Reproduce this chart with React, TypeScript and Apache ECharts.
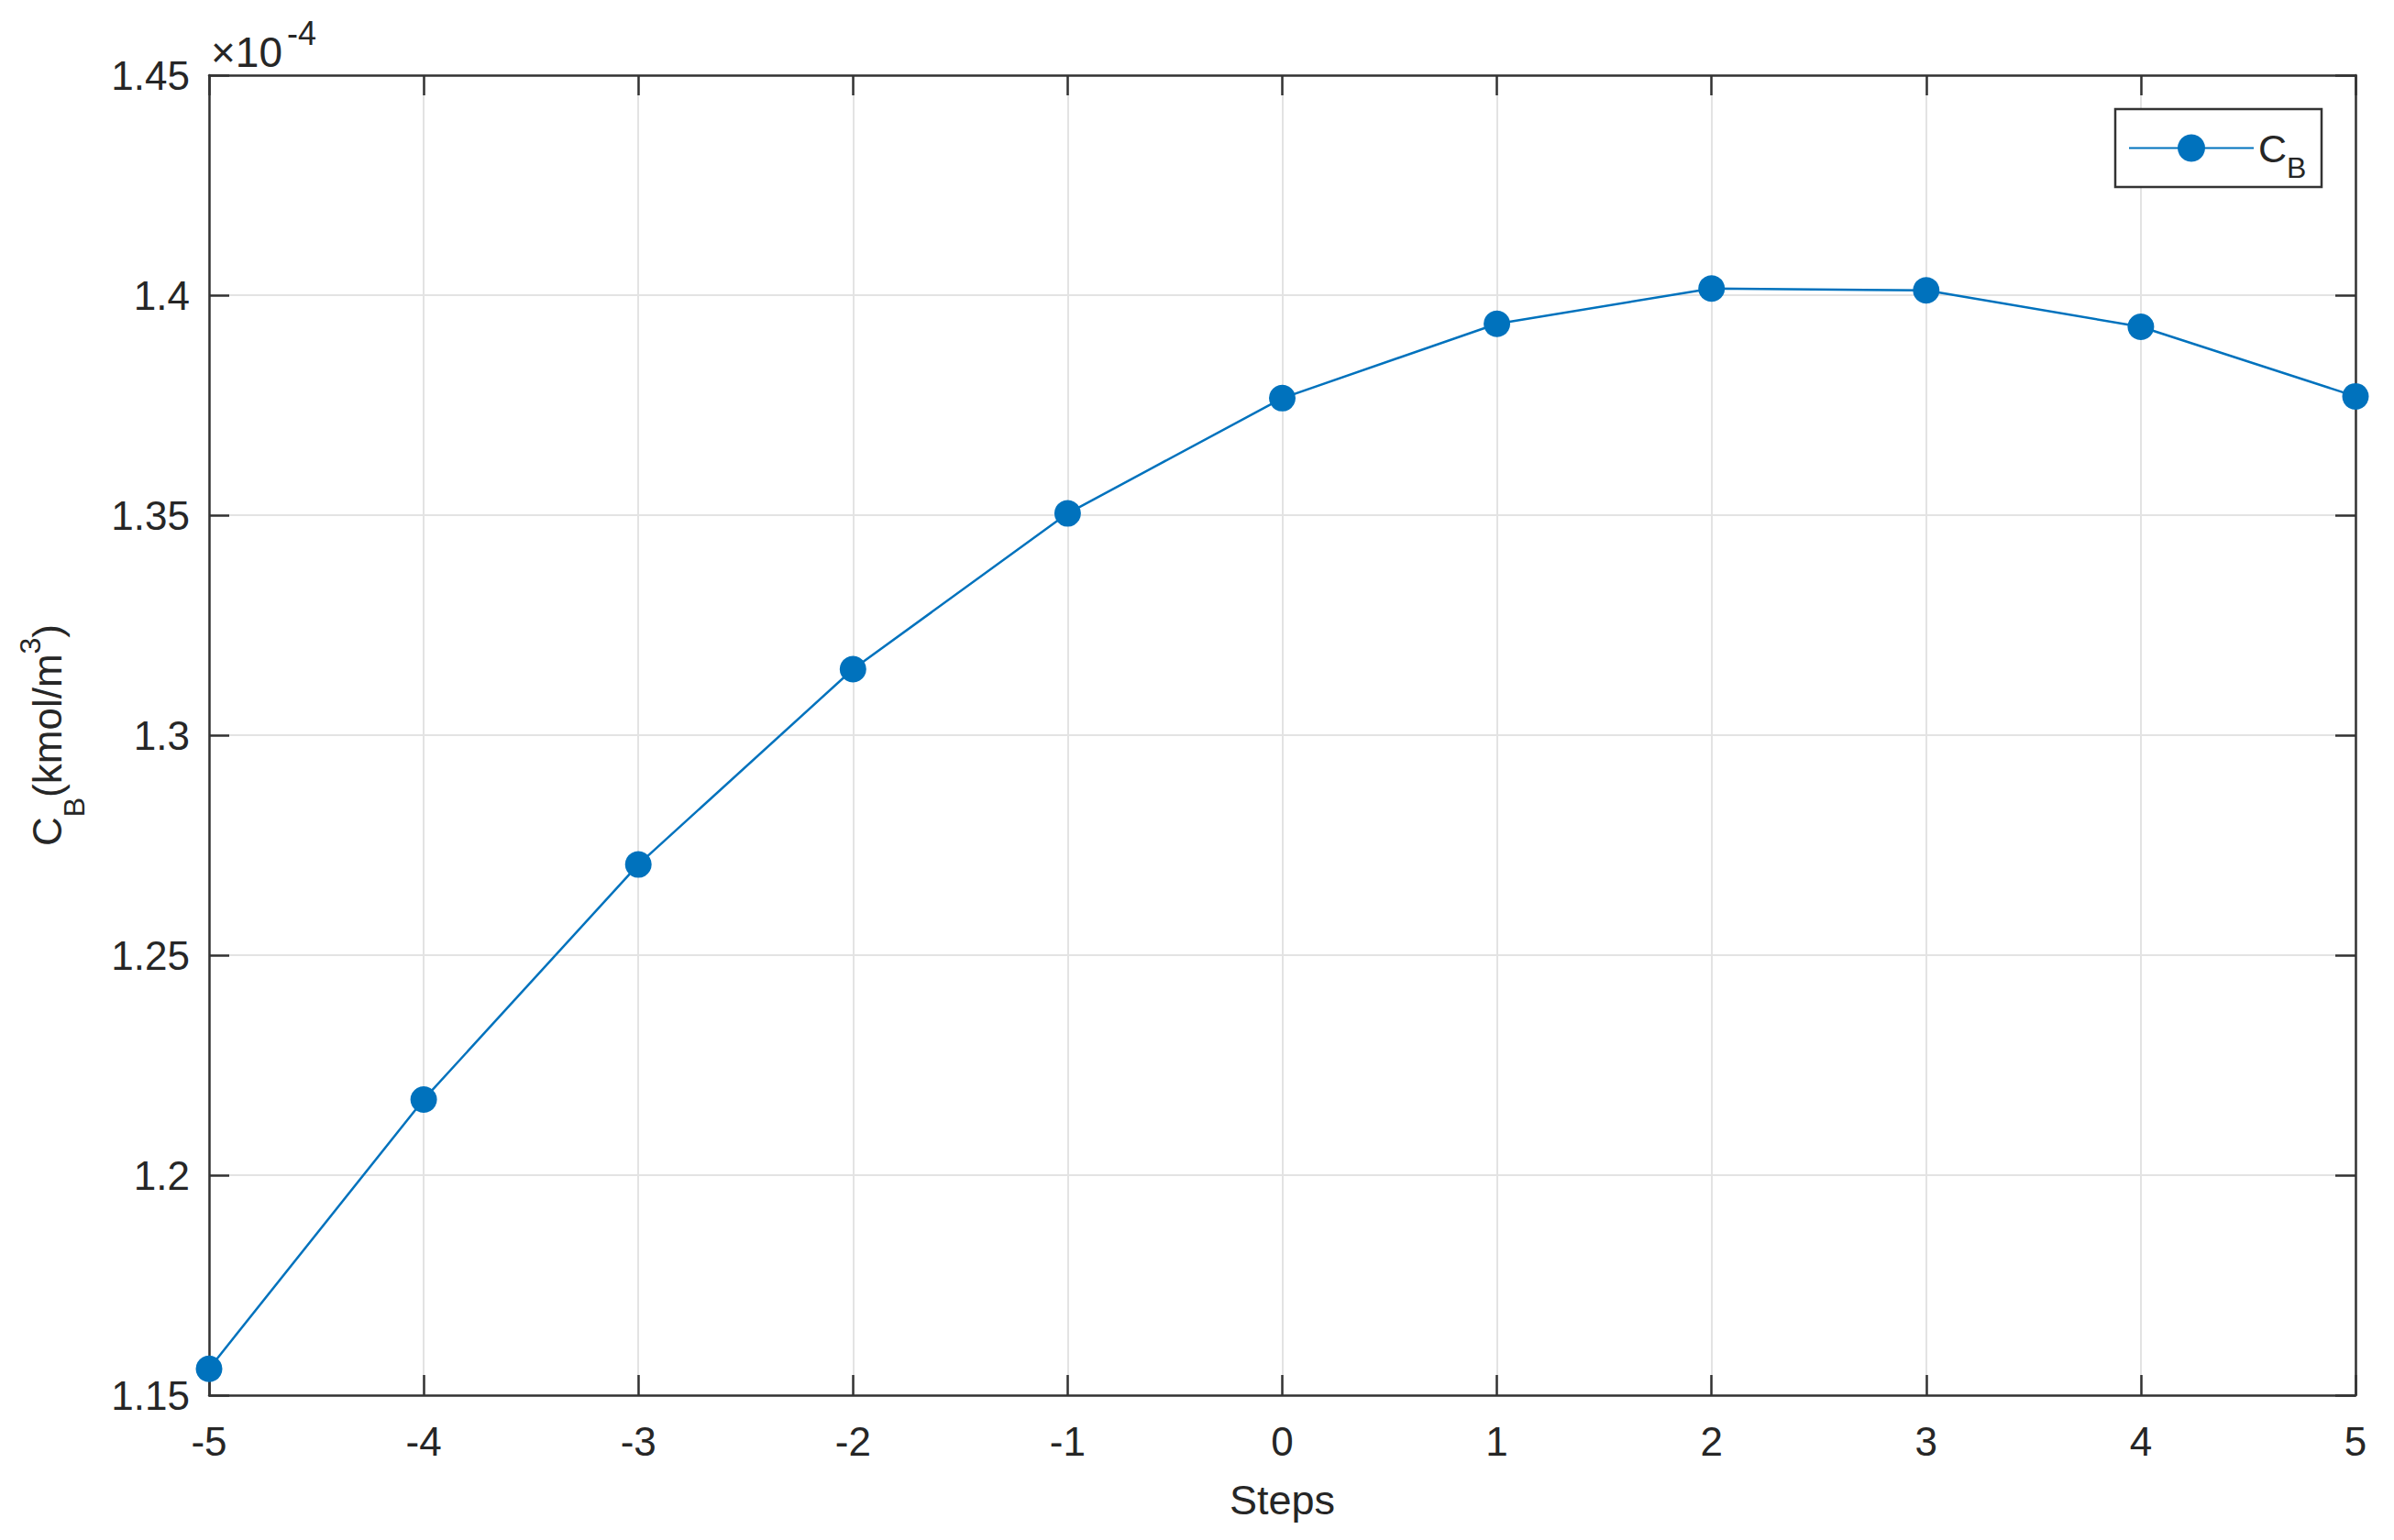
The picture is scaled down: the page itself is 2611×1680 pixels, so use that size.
import React, { useEffect, useRef } from "react";
import * as echarts from "echarts";

// Data (values of C_B are in units of 1e-4 kmol/m^3)
const steps = [-5, -4, -3, -2, -1, 0, 1, 2, 3, 4, 5];
const cbValues = [1.156, 1.2172, 1.2706, 1.315, 1.3504, 1.3766, 1.3935, 1.4015, 1.4011, 1.3928, 1.377];
const yExponentLabel = "-4";
const seriesName = "C_B";
const xTickMin = -5;
const xTickMax = 5;
const yTickMin = 1.15;
const yTickMax = 1.45;

const FONT = "'Liberation Sans', Arial, Helvetica, sans-serif";
const TEXT = "#262626";
const AXIS = "#333333";
const BLUE = "#0072BD";

export default function App() {
  const ref = useRef<HTMLDivElement>(null);

  useEffect(() => {
    if (!ref.current) return;
    const chart = echarts.init(ref.current, undefined, { renderer: "svg" });

    const axisLine = { show: true, onZero: false, lineStyle: { color: AXIS, width: 2.5 } };
    const axisTick = { show: true, inside: true, length: 22, lineStyle: { color: AXIS, width: 2.5 } };
    const splitLine = { show: true, lineStyle: { color: "#e3e3e3", width: 2 } };

    const option: any = {
      animation: false,
      backgroundColor: "#ffffff",
      grid: { left: 228, right: 42, top: 82, bottom: 158 },
      xAxis: [
        {
          type: "value",
          position: "bottom",
          min: xTickMin,
          max: xTickMax,
          interval: 1,
          axisLine,
          axisTick,
          splitLine,
          axisLabel: {
            show: true,
            fontSize: 44,
            fontFamily: FONT,
            color: TEXT,
            margin: 28,
            showMinLabel: true,
            showMaxLabel: true,
          },
          name: "Steps",
          nameLocation: "middle",
          nameGap: 92,
          nameTextStyle: { fontSize: 45, fontFamily: FONT, color: TEXT },
        },
        {
          type: "value",
          position: "top",
          min: xTickMin,
          max: xTickMax,
          interval: 1,
          axisLine,
          axisTick,
          splitLine: { show: false },
          axisLabel: { show: false },
        },
      ],
      yAxis: [
        {
          type: "value",
          position: "left",
          min: yTickMin,
          max: yTickMax,
          interval: 0.05,
          axisLine,
          axisTick,
          splitLine,
          axisLabel: {
            show: true,
            fontSize: 44,
            fontFamily: FONT,
            color: TEXT,
            margin: 21,
            formatter: (v: number) => String(parseFloat(v.toFixed(2))),
          },
          name: "{m|C}{s|B}{m|(kmol/m}{p|3}{m|)}",
          nameLocation: "middle",
          nameRotate: 90,
          nameGap: 135,
          nameTextStyle: {
            fontFamily: FONT,
            color: TEXT,
            rich: {
              m: { fontSize: 44, lineHeight: 84, verticalAlign: "middle", fontFamily: FONT, color: TEXT },
              s: { fontSize: 32, lineHeight: 32, verticalAlign: "top", padding: [56, 0, 0, 0], fontFamily: FONT, color: TEXT },
              p: { fontSize: 32, lineHeight: 32, verticalAlign: "top", padding: [8, 0, 0, 0], fontFamily: FONT, color: TEXT },
            },
          },
        },
        {
          type: "value",
          position: "right",
          min: yTickMin,
          max: yTickMax,
          interval: 0.05,
          axisLine,
          axisTick,
          splitLine: { show: false },
          axisLabel: { show: false },
        },
      ],
      legend: {
        show: true,
        data: [seriesName],
        left: 2321,
        top: 140,
        padding: 0,
        itemWidth: 136,
        itemHeight: 37.5,
        selectedMode: false,
        z: 4,
        formatter: () => "{c|C}{b|B}",
        textStyle: {
          fontFamily: FONT,
          color: TEXT,
          rich: {
            c: { fontSize: 43, lineHeight: 40, verticalAlign: "middle", fontFamily: FONT, color: TEXT },
            b: { fontSize: 32, lineHeight: 30, verticalAlign: "top", padding: [25, 0, 0, 0], fontFamily: FONT, color: TEXT },
          },
        },
      },
      graphic: [
        {
          type: "rect",
          z: 3,
          shape: { x: 2307, y: 119, width: 225, height: 85 },
          style: { fill: "#ffffff", stroke: AXIS, lineWidth: 2.5 },
        },
        {
          type: "text",
          z: 5,
          x: 230,
          y: 57,
          style: { text: "×10", fontSize: 46, fontFamily: FONT, fill: TEXT, align: "left", verticalAlign: "middle" },
        },
        {
          type: "text",
          z: 5,
          x: 313,
          y: 36,
          style: { text: yExponentLabel, fontSize: 36, fontFamily: FONT, fill: TEXT, align: "left", verticalAlign: "middle" },
        },
      ],
      series: [
        {
          name: seriesName,
          type: "line",
          xAxisIndex: 0,
          yAxisIndex: 0,
          data: steps.map((s, i) => [s, cbValues[i]]),
          symbol: "circle",
          symbolSize: 29,
          showSymbol: true,
          clip: false,
          lineStyle: { color: BLUE, width: 2.5 },
          itemStyle: { color: BLUE },
          emphasis: { disabled: true },
          z: 2,
        },
      ],
    };

    chart.setOption(option);
    return () => chart.dispose();
  }, []);

  return (
    <div
      ref={ref}
      style={{ position: "fixed", left: 0, top: 0, width: 2611, height: 1680, background: "#ffffff" }}
    />
  );
}
